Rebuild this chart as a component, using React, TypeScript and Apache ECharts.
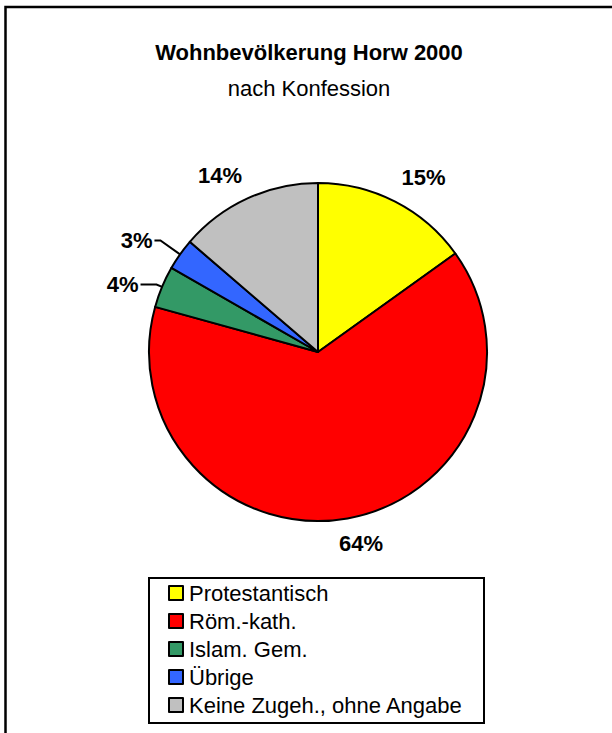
import React, { useEffect, useRef } from "react";
import * as echarts from "echarts";

const categories = [
  "Protestantisch",
  "Röm.-kath.",
  "Islam. Gem.",
  "Übrige",
  "Keine Zugeh., ohne Angabe",
];
const values = [15.1, 64.2, 4.0, 3.0, 13.7];
const colors = ["#FFFF00", "#FF0000", "#339966", "#3366FF", "#C0C0C0"];
const titleText = "Wohnbevölkerung Horw 2000";
const subtitleText = "nach Konfession";

// per-slice label styling (leader line visibility / lengths / text gap)
const labelStyles = [
  { show: false, length: 27, length2: 0, gap: -6 },
  { show: false, length: 25, length2: 0, gap: -13 },
  { show: true, length: 6, length2: 16, gap: 2 },
  { show: true, length: 24, length2: 6, gap: 2 },
  { show: false, length: 25, length2: 0, gap: -5 },
];

const FONT = "'Liberation Sans', Arial, Helvetica, sans-serif";

export default function App() {
  const ref = useRef<HTMLDivElement>(null);
  useEffect(() => {
    if (!ref.current) return;
    const chart = echarts.init(ref.current, undefined, { renderer: "svg" });
    chart.setOption({
      animation: false,
      backgroundColor: "#FFFFFF",
      title: [
        {
          text: titleText,
          left: 309,
          textAlign: "center",
          top: 39,
          padding: 0,
          textStyle: { fontFamily: FONT, fontSize: 22, fontWeight: "bold", color: "#000", lineHeight: 26 },
        },
        {
          text: subtitleText,
          left: 309,
          textAlign: "center",
          top: 75,
          padding: 0,
          textStyle: { fontFamily: FONT, fontSize: 22, fontWeight: "normal", color: "#000", lineHeight: 26 },
        },
      ],
      graphic: [
        {
          type: "rect",
          shape: { x: 5.5, y: 7, width: 640, height: 760 },
          style: { fill: "none", stroke: "#000", lineWidth: 2.5 },
          silent: true,
        },
      ],
      legend: {
        orient: "vertical",
        left: 149,
        top: 578,
        icon: "rect",
        itemWidth: 14,
        itemHeight: 14,
        itemGap: 6,
        borderColor: "#000",
        borderWidth: 2,
        padding: [4, 21, 7, 19],
        backgroundColor: "#FFFFFF",
        itemStyle: { borderColor: "#000", borderWidth: 2 },
        textStyle: { fontFamily: FONT, fontSize: 22, lineHeight: 22, color: "#000", padding: [0, 0, 0, 1] },
        data: categories,
      },
      series: [
        {
          type: "pie",
          center: [318, 352],
          radius: 169,
          startAngle: 90,
          clockwise: true,
          avoidLabelOverlap: false,
          itemStyle: { borderColor: "#000", borderWidth: 2 },
          label: {
            show: true,
            position: "outside",
            fontFamily: FONT,
            fontSize: 22,
            fontWeight: "bold",
            color: "#000",
            distanceToLabelLine: 2,
            formatter: (p: any) => Math.round(p.percent) + "%",
          },
          labelLine: {
            show: true,
            lineStyle: { color: "#000", width: 2 },
          },
          data: categories.map((name, i) => ({
            name,
            value: values[i],
            itemStyle: { color: colors[i] },
            label: { distanceToLabelLine: labelStyles[i].gap },
            labelLine: {
              show: labelStyles[i].show,
              length: labelStyles[i].length,
              length2: labelStyles[i].length2,
            },
          })),
        },
      ],
    });
    return () => chart.dispose();
  }, []);
  return (
    <div
      ref={ref}
      style={{ position: "absolute", left: 0, top: 0, width: 612, height: 733 }}
    />
  );
}
